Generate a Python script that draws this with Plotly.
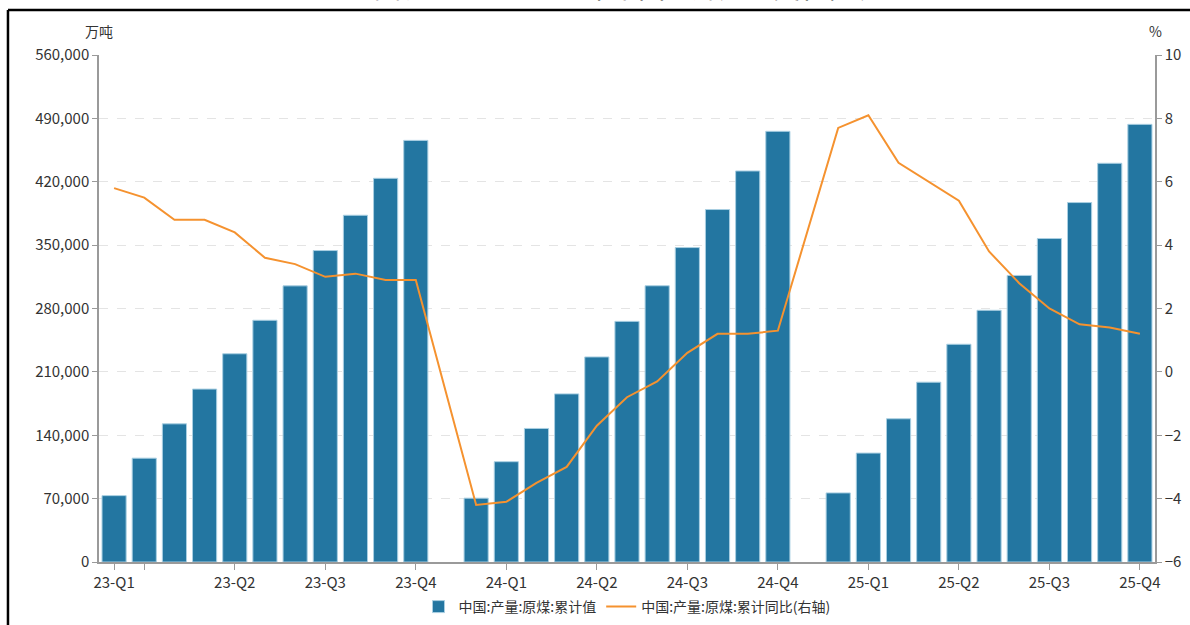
import plotly.graph_objects as go

# ---- data ----
categories = [
    "2023-02", "2023-03", "2023-04", "2023-05", "2023-06", "2023-07", "2023-08",
    "2023-09", "2023-10", "2023-11", "2023-12",
    "2024-01", "2024-02", "2024-03", "2024-04", "2024-05", "2024-06", "2024-07",
    "2024-08", "2024-09", "2024-10", "2024-11", "2024-12",
    "2025-01", "2025-02", "2025-03", "2025-04", "2025-05", "2025-06", "2025-07",
    "2025-08", "2025-09", "2025-10", "2025-11", "2025-12",
]
cumulative = [
    73300, 114700, 152600, 191000, 230000, 267000, 305000, 344000, 383000, 423800, 465700,
    None, 70500, 110800, 147500, 185700, 226500, 265800, 305100, 347300, 389300, 431900, 475700,
    None, 76300, 120300, 158200, 198600, 240500, 278000, 316500, 357300, 397000, 440400, 483400,
]
yoy = [
    5.8, 5.5, 4.8, 4.8, 4.4, 3.6, 3.4, 3.0, 3.1, 2.9, 2.9,
    None, -4.2, -4.1, -3.5, -3.0, -1.7, -0.8, -0.3, 0.6, 1.2, 1.2, 1.3,
    None, 7.7, 8.1, 6.6, 6.0, 5.4, 3.8, 2.8, 2.0, 1.5, 1.4, 1.2,
]
tick_cats = ["2023-02", "2023-03", "2023-06", "2023-09", "2023-12", "2024-03", "2024-06",
             "2024-09", "2024-12", "2025-03", "2025-06", "2025-09", "2025-12"]
tick_text = ["23-Q1", "", "23-Q2", "23-Q3", "23-Q4", "24-Q1", "24-Q2",
             "24-Q3", "24-Q4", "25-Q1", "25-Q2", "25-Q3", "25-Q4"]
left_ticks = [0, 70000, 140000, 210000, 280000, 350000, 420000, 490000, 560000]
right_ticks = [-6, -4, -2, 0, 2, 4, 6, 8, 10]
bar_name = "中国:产量:原煤:累计值"
line_name = "中国:产量:原煤:累计同比(右轴)"
title_text = "图表：2023-2025年中国原煤产量变化情况"

FONT = "Noto Sans CJK SC"
BAR_COLOR = "#2376a1"
LINE_COLOR = "#f5922f"
AXIS_COLOR = "#9a9a9a"
TEXT_COLOR = "#333333"

fig = go.Figure()
fig.add_trace(go.Bar(
    x=categories, y=cumulative, name=bar_name,
    marker=dict(color=BAR_COLOR, line=dict(color="#a9cfe2", width=1)),
    yaxis="y",
))
fig.add_trace(go.Scatter(
    x=categories, y=yoy, name=line_name, mode="lines",
    line=dict(color=LINE_COLOR, width=2), connectgaps=True,
    yaxis="y2",
))

fig.update_layout(
    template="none",
    width=1190, height=625,
    margin=dict(l=99, r=35, t=55, b=63, autoexpand=False),
    paper_bgcolor="white", plot_bgcolor="white",
    font=dict(family=FONT, size=14, color=TEXT_COLOR),
    bargap=0.2,
    showlegend=True,
    legend=dict(orientation="h", x=0.5, xanchor="center",
                yref="container", y=0.0288, yanchor="middle",
                font=dict(size=14, color=TEXT_COLOR), itemwidth=30),
    xaxis=dict(
        type="category", categoryorder="array", categoryarray=categories,
        range=[-0.5, len(categories) - 0.5], automargin=False,
        tickmode="array", tickvals=tick_cats, ticktext=tick_text,
        showline=True, linecolor=AXIS_COLOR, linewidth=1.5,
        ticks="outside", ticklen=6, tickcolor=AXIS_COLOR,
        showgrid=False, tickfont=dict(size=15, color=TEXT_COLOR),
        zeroline=False,
    ),
    yaxis=dict(
        range=[0, 560000], tickmode="array", tickvals=left_ticks, automargin=False,
        tickformat=",", showline=True, linecolor=AXIS_COLOR, linewidth=1.5,
        ticks="outside", ticklen=5, tickcolor=AXIS_COLOR,
        showgrid=True, gridcolor="#e4e4e4", griddash="dash", gridwidth=1,
        zeroline=False, tickfont=dict(size=15, color=TEXT_COLOR),
    ),
    yaxis2=dict(
        range=[-6, 10], tickmode="array", tickvals=right_ticks, automargin=False,
        overlaying="y", side="right",
        showline=True, linecolor=AXIS_COLOR, linewidth=1.5,
        ticks="outside", ticklen=5, tickcolor=AXIS_COLOR,
        showgrid=False, zeroline=False, tickfont=dict(size=15, color=TEXT_COLOR),
    ),
    annotations=[
        dict(text="万吨", xref="paper", yref="paper", x=0, y=1, yshift=12,
             xanchor="center", yanchor="bottom", showarrow=False,
             font=dict(size=14, color=TEXT_COLOR)),
        dict(text="%", xref="paper", yref="paper", x=1, y=1, yshift=12,
             xanchor="center", yanchor="bottom", showarrow=False,
             font=dict(size=14, color=TEXT_COLOR)),
        dict(text=title_text, xref="paper", yref="paper", x=0.5, y=1, yshift=47,
             xanchor="center", yanchor="bottom", showarrow=False,
             font=dict(size=27, color="#111111")),
    ],
    shapes=[
        dict(type="line", xref="paper", yref="paper", x0=-0.0862, x1=1.05, y0=1.0888, y1=1.0888,
             line=dict(color="black", width=2.5)),
        dict(type="line", xref="paper", yref="paper", x0=-0.0862, x1=-0.0862, y0=1.0888, y1=-0.2,
             line=dict(color="black", width=2.5)),
    ],
)

fig.write_html("out.html", config={"displayModeBar": False},
               post_script="document.body.style.margin='0';")
